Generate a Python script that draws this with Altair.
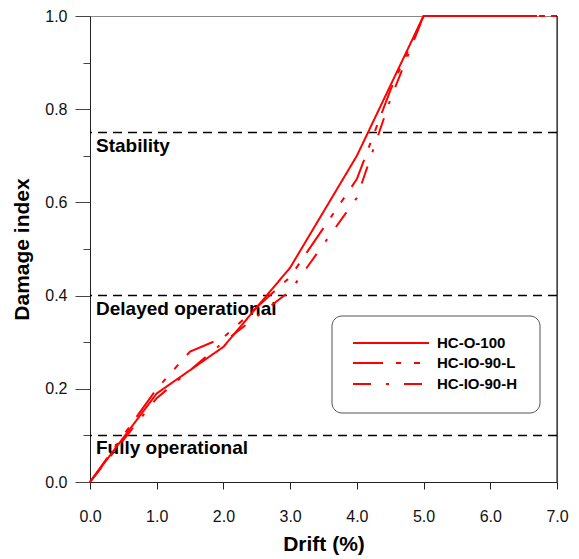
import altair as alt
import pandas as pd

# ---- data ----
series_names = ["HC-O-100", "HC-IO-90-L", "HC-IO-90-H"]

o100_x = [0.0, 1.0, 2.0, 3.0, 4.0, 5.0, 6.7]
o100_y = [0.0, 0.19, 0.29, 0.46, 0.70, 1.0, 1.0]

io90l_x = [0.0, 0.5, 1.0, 1.5, 2.0, 3.0, 4.0, 4.5, 5.0, 7.0]
io90l_y = [0.0, 0.10, 0.20, 0.28, 0.31, 0.44, 0.65, 0.84, 1.0, 1.0]

io90h_x = [0.0, 0.5, 1.0, 2.0, 3.0, 4.0, 4.5, 5.0, 7.0]
io90h_y = [0.0, 0.09, 0.18, 0.30, 0.41, 0.61, 0.82, 1.0, 1.0]

threshold_values = [0.75, 0.4, 0.1]
threshold_labels = ["Stability", "Delayed operational", "Fully operational"]

x_ticks = [0.0, 0.5, 1.0, 1.5, 2.0, 2.5, 3.0, 3.5, 4.0, 4.5, 5.0, 5.5, 6.0, 6.5, 7.0]
y_ticks = [0.0, 0.1, 0.2, 0.3, 0.4, 0.5, 0.6, 0.7, 0.8, 0.9, 1.0]

# ---- styles ----
FONT = "Liberation Sans"
RED = "#ff0000"
dashes = [[1, 0], [30, 13, 5, 13, 6, 13], [18, 15, 3, 15]]

rows = []
for name, xs, ys in zip(series_names, [o100_x, io90l_x, io90h_x], [o100_y, io90l_y, io90h_y]):
    for i, (a, b) in enumerate(zip(xs, ys)):
        rows.append({"series": name, "drift": a, "damage": b, "order": i})
df = pd.DataFrame(rows)

thr = pd.DataFrame({"value": threshold_values, "label": threshold_labels})

x_scale = alt.Scale(domain=[0, 7], nice=False, zero=False)
y_scale = alt.Scale(domain=[0, 1], nice=False, zero=False)

x_axis = alt.Axis(
    values=x_ticks,
    labelExpr="round(datum.value*2) % 2 == 0 ? format(datum.value, '.1f') : ''",
    tickSize=7, tickColor="#222", domainColor="#222", grid=False,
    labelFont=FONT, labelFontSize=16, labelColor="#111", labelPadding=19,
    labelOverlap=False, labelFlush=False, labelBound=False,
    title="Drift (%)", titleFont=FONT, titleFontSize=21, titleFontWeight="bold",
    titleColor="#000", titlePadding=9,
)
y_axis = alt.Axis(
    values=y_ticks,
    labelExpr="round(datum.value*10) % 2 == 0 ? format(datum.value, '.1f') : ''",
    tickSize={"condition": {"test": "round(datum.value*10) % 2 == 0", "value": 15}, "value": 7},
    tickColor="#444", domainColor="#222", grid=False,
    labelFont=FONT, labelFontSize=16, labelColor="#111", labelPadding=8,
    labelOverlap=False, labelFlush=False, labelBound=False,
    title="Damage index", titleFont=FONT, titleFontSize=21, titleFontWeight="bold",
    titleColor="#000", titlePadding=12,
)

lines = alt.Chart(df).mark_line(strokeWidth=2, color=RED, clip=False).encode(
    x=alt.X("drift:Q", scale=x_scale, axis=x_axis),
    y=alt.Y("damage:Q", scale=y_scale, axis=y_axis),
    strokeDash=alt.StrokeDash("series:N", scale=alt.Scale(domain=series_names, range=dashes), legend=None),
    order="order:Q",
)

thr_rules = alt.Chart(thr).mark_rule(color="#000", strokeWidth=1.5, strokeDash=[9, 6]).encode(
    y=alt.Y("value:Q", scale=y_scale)
)
thr_text = alt.Chart(thr).mark_text(
    align="left", baseline="middle", dy=13, font=FONT, fontSize=19, fontWeight="bold", color="#000"
).encode(x=alt.value(6), y=alt.Y("value:Q", scale=y_scale), text="label:N")

right_border = alt.Chart(pd.DataFrame({"a": [0]})).mark_rule(color="#000", strokeWidth=1).encode(
    x=alt.datum(7), y=alt.datum(0), y2=alt.datum(1)
)

one = pd.DataFrame({"a": [0]})
legend_box = alt.Chart(one).mark_rect(
    fill="white", stroke="#555", strokeWidth=1, cornerRadius=10
).encode(x=alt.value(242), x2=alt.value(450), y=alt.value(300), y2=alt.value(397))

legend_layers = []
legend_ys = [327, 347, 368]
for name, dash, ly in zip(series_names, dashes, legend_ys):
    legend_layers.append(
        alt.Chart(one).mark_rule(color=RED, strokeWidth=2, strokeDash=dash).encode(
            x=alt.value(263), x2=alt.value(339), y=alt.value(ly)
        )
    )
    legend_layers.append(
        alt.Chart(one).mark_text(
            align="left", baseline="middle", font=FONT, fontSize=15, fontWeight="bold", color="#000"
        ).encode(x=alt.value(347), y=alt.value(ly), text=alt.value(name))
    )

chart = alt.layer(
    thr_rules, thr_text, lines, right_border, legend_box, *legend_layers
).properties(
    width=467, height=466,
    autosize=alt.AutoSizeParams(type="none"),
    padding={"left": 90, "top": 16, "right": 22, "bottom": 77},
    background="white",
).configure_view(stroke="#888", strokeWidth=1)

chart.save("out.html", embed_options={"renderer": "svg", "actions": False})
